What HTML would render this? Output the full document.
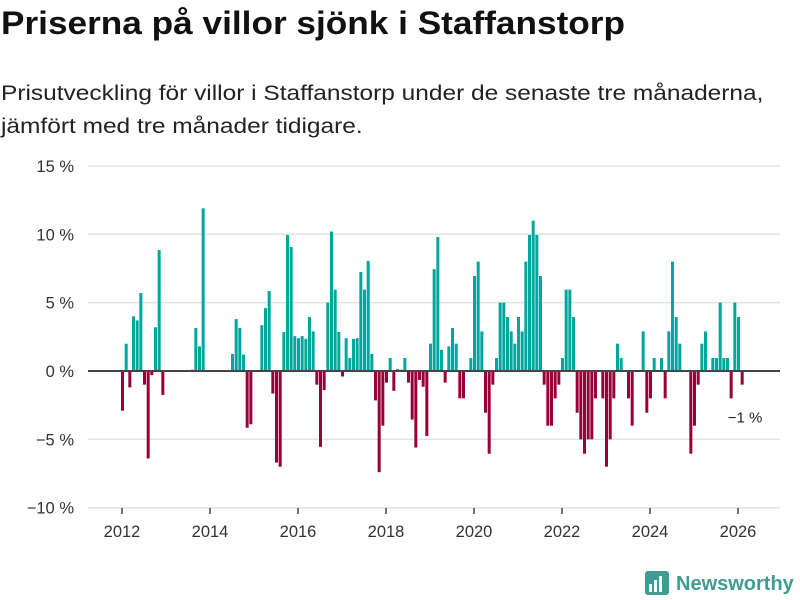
<!DOCTYPE html>
<html><head><meta charset="utf-8">
<style>
body{margin:0;background:#fff;width:800px;height:600px;overflow:hidden;font-family:"Liberation Sans",sans-serif;}
#title{position:absolute;left:1px;top:5px;font-size:32px;font-weight:bold;color:#111;margin:0;white-space:nowrap;transform:scaleX(1.1);transform-origin:0 0}
#sub{position:absolute;left:1px;top:77px;font-size:21px;line-height:33px;color:#222;margin:0;white-space:nowrap;transform:scaleX(1.165);transform-origin:0 0}
svg{position:absolute;left:0;top:0}
</style></head><body>
<h1 id="title">Priserna på villor sjönk i Staffanstorp</h1>
<p id="sub">Prisutveckling för villor i Staffanstorp under de senaste tre månaderna,<br>jämfört med tre månader tidigare.</p>
<svg id="chart" width="800" height="600"></svg>
<script>
const yTicks=[15,10,5,0,-5,-10];
const yTickLabels=["15 %","10 %","5 %","0 %","−5 %","−10 %"];
const xYears=[2012,2014,2016,2018,2020,2022,2024,2026];
const startYear=2012;
const values=[-2.9,2.0,-1.2,4.0,3.7,5.7,-1.0,-6.4,-0.3,3.2,8.85,-1.75,
null,null,null,null,null,null,null,0.1,3.15,1.8,11.9,
null,null,null,null,null,null,null,
1.25,3.8,3.15,1.2,-4.15,-3.9,null,null,3.35,4.6,5.85,
-1.65,-6.7,-7.0,2.85,9.95,9.07,2.55,2.4,2.55,2.35,3.95,2.9,-1.0,-5.55,-1.4,5.0,10.2,5.95,2.85,
-0.4,2.4,0.95,2.35,2.4,7.25,5.95,8.05,1.25,-2.15,-7.4,-4.0,
-0.85,0.95,-1.45,0.15,0.1,0.95,-0.85,-3.55,-5.6,-0.65,-1.15,-4.75,
2.0,7.45,9.8,1.55,-0.85,1.8,3.15,2.0,-2.0,-2.0,null,0.95,
6.95,8.0,2.9,-3.05,-6.05,-1.0,0.95,5.0,5.0,3.95,2.9,2.0,
3.95,2.9,8.0,9.95,11.0,9.95,6.95,-1.0,-4.0,-4.0,-2.0,-1.0,
0.95,5.95,5.95,3.95,-3.05,-5.0,-6.05,-5.0,-5.0,-2.0,null,-2.0,
-7.0,-5.0,-2.0,2.0,0.95,null,-2.0,-4.0,null,null,2.9,-3.05,
-2.0,0.95,null,0.95,-2.0,2.9,8.0,3.95,2.0,null,null,-6.05,
-4.0,-1.0,2.0,2.9,null,0.95,0.95,5.0,0.95,0.95,-2.0,5.0,
3.95,-1.0];
const lastLabel="−1 %";

const NS="http://www.w3.org/2000/svg";
const svg=document.getElementById('chart');
const X0=88,X1=780;
function y(v){return 371-v*13.67;}
function xm(m){return 122+m*(44/12);}
function mk(t,a,p){const e=document.createElementNS(NS,t);for(const k in a)e.setAttribute(k,a[k]);(p||svg).appendChild(e);return e;}
yTicks.forEach((t,i)=>{
  if(t!==0){const g=mk('line',{x1:X0,x2:X1,y1:y(t),y2:y(t),stroke:'#e2e2e2','stroke-width':1.5});
  
  }
  const l=mk('text',{x:74,y:y(t)+6,'text-anchor':'end','font-size':16.5,fill:'#333','font-family':'Liberation Sans, sans-serif'});
  l.textContent=yTickLabels[i];
  
  
});
const bw=3.0;
values.forEach((v,m)=>{
  if(v===null||v===undefined)return;
  const top=Math.min(y(v),y(0)),h=Math.abs(y(v)-y(0));
  const r=mk('rect',{x:xm(m)-bw/2+0.5,y:top,width:bw,height:h,fill:v>=0?'#00a79c':'#990038'});
  
  
});
const z=mk('line',{x1:X0,x2:X1,y1:y(0),y2:y(0),stroke:'#444','stroke-width':2});


xYears.forEach(yr=>{
  const xx=xm((yr-startYear)*12);
  const t=mk('line',{x1:xx,x2:xx,y1:508,y2:514,stroke:'#444','stroke-width':1.5});
  
  
  const l=mk('text',{x:xx,y:537,'text-anchor':'middle','font-size':16.5,fill:'#333','font-family':'Liberation Sans, sans-serif'});
  l.textContent=yr;
  
  
});
const lv=values[values.length-1];
const la=mk('text',{x:745,y:y(lv)+38,'text-anchor':'middle','font-size':15,fill:'#222','font-family':'Liberation Sans, sans-serif'});
la.textContent=lastLabel;


const lg=mk('g',{});


mk('rect',{x:645,y:571,width:24,height:24,rx:3,fill:'#3f9c93'},lg);
mk('rect',{x:649,y:584,width:3,height:8,fill:'#fff'},lg);
mk('rect',{x:654,y:580,width:3,height:12,fill:'#fff'},lg);
mk('rect',{x:659,y:576,width:3,height:16,fill:'#fff'},lg);
const lt=mk('text',{x:676,y:590,'font-size':20,'font-weight':'bold',fill:'#3f9c93','font-family':'Liberation Sans, sans-serif'},lg);
lt.textContent='Newsworthy';
</script>
</body></html>
